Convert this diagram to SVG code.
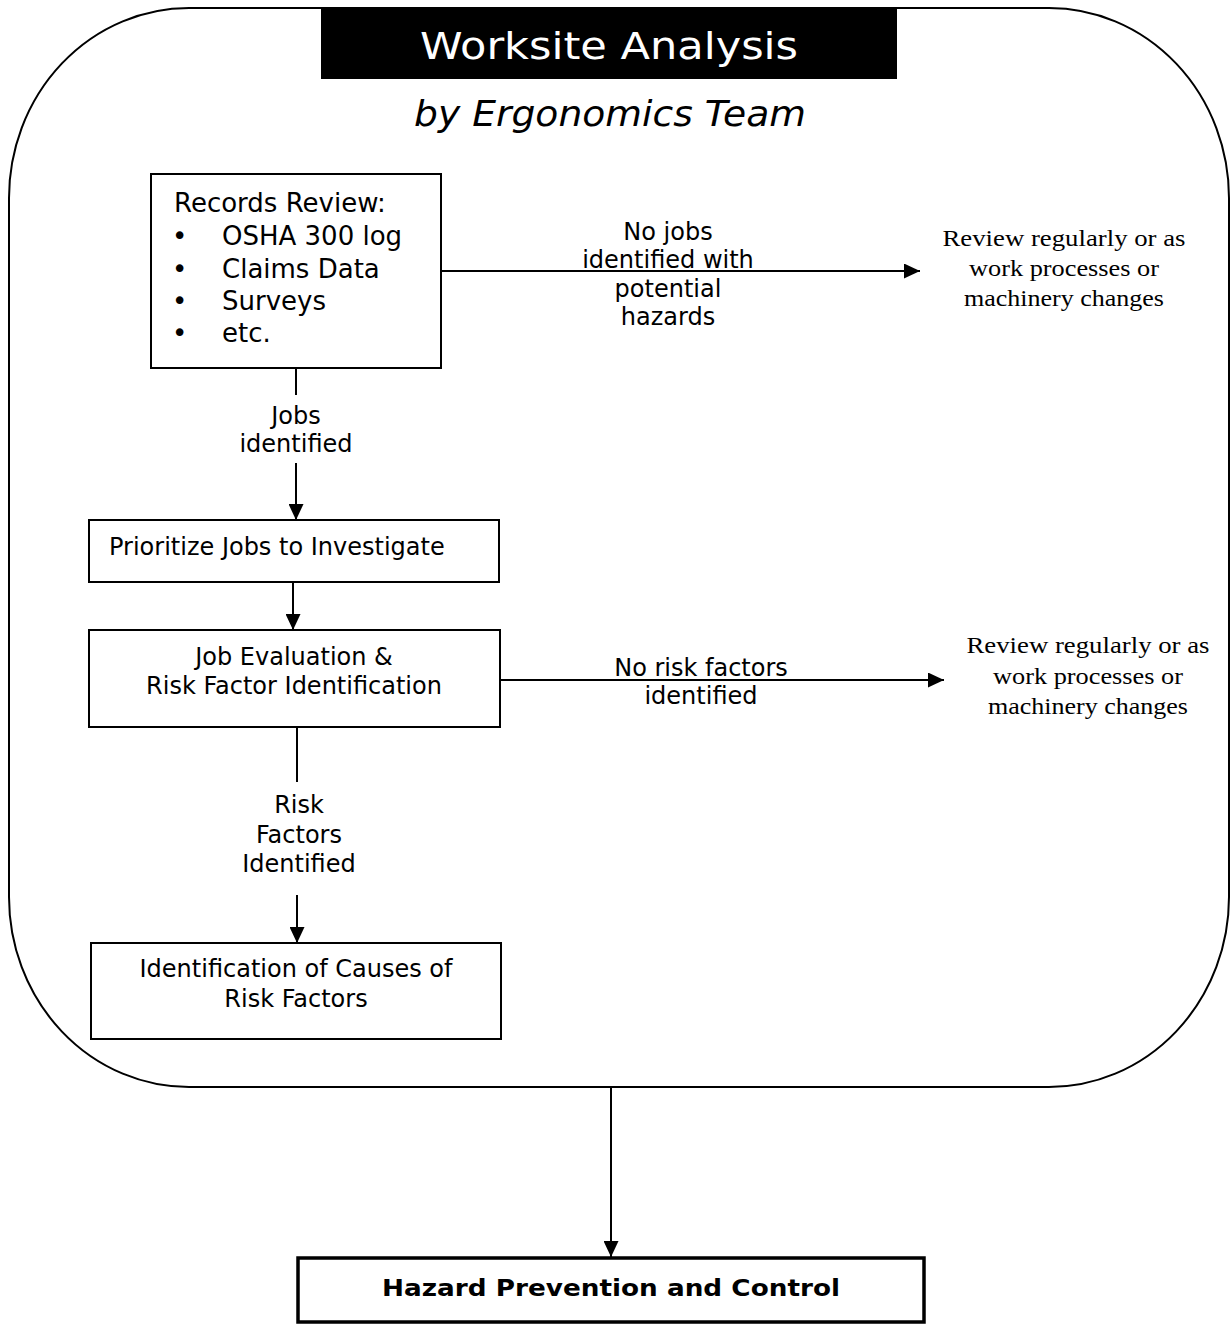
<svg xmlns="http://www.w3.org/2000/svg" width="1231" height="1332" viewBox="0 0 1231 1332">
<style>
.v{font-family:"DejaVu Sans",Verdana,sans-serif;font-size:24px;fill:#000}
.r{font-size:26px}
.t{font-family:"Liberation Serif","Times New Roman",serif;font-size:23px;fill:#000}
.c{text-anchor:middle}
.box{fill:#fff;stroke:#000;stroke-width:2}
.ln{stroke:#000;stroke-width:2;fill:none}
</style>
<defs>
<marker id="ah" markerWidth="16" markerHeight="15" refX="16" refY="7.5" orient="auto" markerUnits="userSpaceOnUse">
<path d="M0,0 L16,7.5 L0,15 Z" fill="#000"/>
</marker>
</defs>
<rect x="0" y="0" width="1231" height="1332" fill="#fff"/>
<g id="frame">
<rect x="9" y="8" width="1220" height="1079" rx="180" ry="190" fill="none" stroke="#000" stroke-width="2"/>
</g>
<g id="title">
<rect x="321" y="8" width="576" height="71" fill="#000"/>
<text x="609" y="59" class="v c" style="font-size:38px;fill:#fff" textLength="378" lengthAdjust="spacingAndGlyphs">Worksite Analysis</text>
<text x="610" y="126" class="v c" style="font-size:36px;font-style:italic" textLength="392" lengthAdjust="spacingAndGlyphs">by Ergonomics Team</text>
</g>
<g id="connectors">
<line x1="441" y1="271" x2="920" y2="271" class="ln" marker-end="url(#ah)"/>
<line x1="296" y1="369" x2="296" y2="395" class="ln"/>
<line x1="296" y1="463" x2="296" y2="520" class="ln" marker-end="url(#ah)"/>
<line x1="293" y1="583" x2="293" y2="630" class="ln" marker-end="url(#ah)"/>
<line x1="500" y1="680" x2="944" y2="680" class="ln" marker-end="url(#ah)"/>
<line x1="297" y1="728" x2="297" y2="782" class="ln"/>
<line x1="297" y1="895" x2="297" y2="943" class="ln" marker-end="url(#ah)"/>
<line x1="611" y1="1087" x2="611" y2="1257" class="ln" marker-end="url(#ah)"/>
<g class="v c">
<text x="668" y="240">No jobs</text>
<text x="668" y="268">identified with</text>
<text x="668" y="297">potential</text>
<text x="668" y="325">hazards</text>
<text x="296" y="424">Jobs</text>
<text x="296" y="452">identified</text>
<text x="701" y="676">No risk factors</text>
<text x="701" y="704">identified</text>
<text x="299" y="813">Risk</text>
<text x="299" y="843">Factors</text>
<text x="299" y="872">Identified</text>
</g>
</g>
<g id="records">
<rect x="151" y="174" width="290" height="194" class="box"/>
<text x="174" y="212" class="v r">Records Review:</text>
<g class="v r">
<text x="172" y="245">•</text><text x="222" y="245">OSHA 300 log</text>
<text x="172" y="278">•</text><text x="222" y="278">Claims Data</text>
<text x="172" y="310">•</text><text x="222" y="310">Surveys</text>
<text x="172" y="342">•</text><text x="222" y="342">etc.</text>
</g>
</g>
<g id="review1" class="t c">
<text x="1064" y="246" textLength="243" lengthAdjust="spacingAndGlyphs">Review regularly or as</text>
<text x="1064" y="276" textLength="190" lengthAdjust="spacingAndGlyphs">work processes or</text>
<text x="1064" y="306" textLength="200" lengthAdjust="spacingAndGlyphs">machinery changes</text>
</g>
<g id="prioritize">
<rect x="89" y="520" width="410" height="62" class="box"/>
<text x="109" y="555" class="v">Prioritize Jobs to Investigate</text>
</g>
<g id="evaluation">
<rect x="89" y="630" width="411" height="97" class="box"/>
<text x="294" y="665" class="v c">Job Evaluation &amp;</text>
<text x="294" y="694" class="v c">Risk Factor Identification</text>
</g>
<g id="review2" class="t c">
<text x="1088" y="653" textLength="243" lengthAdjust="spacingAndGlyphs">Review regularly or as</text>
<text x="1088" y="684" textLength="190" lengthAdjust="spacingAndGlyphs">work processes or</text>
<text x="1088" y="714" textLength="200" lengthAdjust="spacingAndGlyphs">machinery changes</text>
</g>
<g id="causes">
<rect x="91" y="943" width="410" height="96" class="box"/>
<text x="296" y="977" class="v c">Identification of Causes of</text>
<text x="296" y="1007" class="v c">Risk Factors</text>
</g>
<g id="hazard">
<rect x="298" y="1258" width="626" height="64" fill="#fff" stroke="#000" stroke-width="3.5"/>
<text x="611" y="1296" class="c" style="font-family:'DejaVu Sans',Verdana,sans-serif;font-size:23px;font-weight:bold" textLength="458" lengthAdjust="spacingAndGlyphs">Hazard Prevention and Control</text>
</g>
</svg>
